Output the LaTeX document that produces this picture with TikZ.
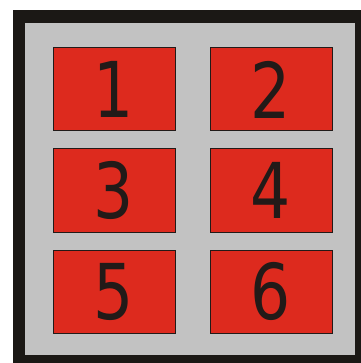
\documentclass[tikz,border=0pt]{standalone}
\usepackage{fontspec}
\usepackage{xcolor}
\usepackage{tikz}
\usetikzlibrary{positioning}
\newfontfamily\digitfont[FakeStretch=0.82]{DejaVu Sans}
\definecolor{framedark}{HTML}{1B1815}
\definecolor{panelgray}{HTML}{C2C2C2}
\definecolor{cellred}{HTML}{DD2A1E}
\definecolor{digitdark}{HTML}{221A18}

\begin{document}
\begin{tikzpicture}[x=1pt,y=-1pt,node distance=17pt and 34pt,
  cell/.style={draw=digitdark,line width=1pt,fill=cellred,minimum width=122pt,minimum height=83pt,
    inner sep=0pt,font=\digitfont\fontsize{77}{77}\selectfont,text=digitdark}]
\useasboundingbox (0,0) rectangle (360,363);
% marco negro y panel gris
\fill[framedark] (13,10) rectangle (362,365);
\fill[panelgray] (25,23) rectangle (355,355);
\node[cell] (c1) at (114,89.5) {1};
\node[cell,right=of c1] (c2) {2};
\node[cell,below=of c1] (c3) {3};
\node[cell,right=of c3] (c4) {4};
\node[cell,below=of c3] (c5) {5};
\node[cell,right=of c5] (c6) {6};
\end{tikzpicture}
\end{document}
